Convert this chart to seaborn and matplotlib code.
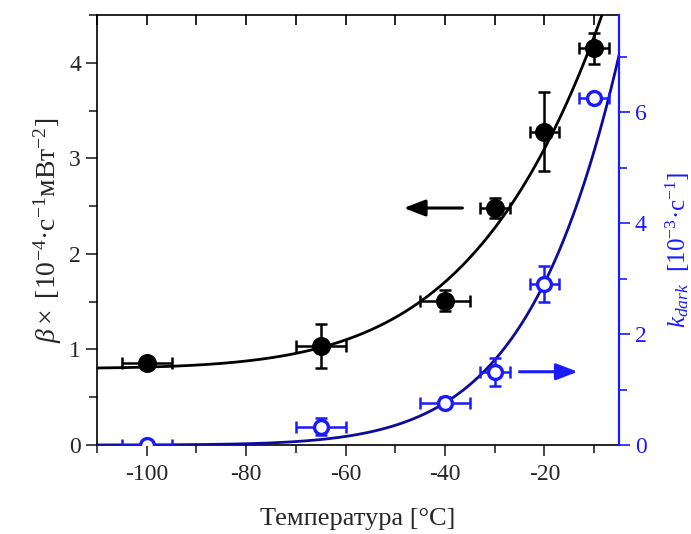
import numpy as np
import pandas as pd
import matplotlib
matplotlib.use("Agg")
import matplotlib.pyplot as plt
import seaborn as sns
from matplotlib.ticker import MultipleLocator

# ---- data ----
temp = [-100, -65, -40, -30, -20, -10]
temp_err = [5, 5, 5, 3, 3, 3]
beta = [0.86, 1.04, 1.51, 2.48, 3.28, 4.15]
beta_err = [0.05, 0.23, 0.11, 0.10, 0.41, 0.16]
kdark = [0.0, 0.33, 0.76, 1.32, 2.90, 6.25]
kdark_err = [0.05, 0.15, 0.10, 0.25, 0.32, 0.08]

# Arrhenius-type fit parameters
beta_offset = 0.80
beta_ref = 2.30        # beta - offset at T_ref
beta_Ea = 2750.0       # K
k_ref = 2.92           # kdark at T_ref
k_Ea = 3970.0          # K
T_ref = -20.0

sns.set_style("ticks")
plt.rcParams["font.family"] = ["Liberation Serif", "DejaVu Serif"]
plt.rcParams["mathtext.fontset"] = "custom"
plt.rcParams["mathtext.rm"] = "Liberation Serif"
plt.rcParams["mathtext.it"] = "Liberation Serif:italic"
plt.rcParams["axes.unicode_minus"] = False

fig = plt.figure(figsize=(6.91, 5.34), dpi=100)
ax = fig.add_axes([0.1404, 0.1667, 0.8958 - 0.1404, 0.9719 - 0.1667])
ax2 = ax.twinx()

Tfit = np.linspace(-110, -5, 300)
inv = 1.0 / (Tfit + 273.15) - 1.0 / (T_ref + 273.15)
beta_fit = beta_offset + beta_ref * np.exp(-beta_Ea * inv)
k_fit = k_ref * np.exp(-k_Ea * inv)

df_fit = pd.DataFrame({"T": Tfit, "beta": beta_fit, "k": k_fit})
df = pd.DataFrame({"T": temp, "beta": beta, "k": kdark})

blue = "#1a1aff"
navy = "#0b0b9c"

sns.lineplot(data=df_fit, x="T", y="beta", ax=ax, color="black", lw=2, zorder=2)
ax.errorbar(temp, beta, xerr=temp_err, yerr=beta_err, fmt="none",
            ecolor="black", elinewidth=1.8, capsize=4.5, capthick=1.8, zorder=3)
sns.scatterplot(data=df, x="T", y="beta", ax=ax, color="black", s=160,
                edgecolor="black", zorder=4)

sns.lineplot(data=df_fit, x="T", y="k", ax=ax2, color=navy, lw=2, zorder=2)
ax2.errorbar(temp, kdark, xerr=temp_err, yerr=kdark_err, fmt="none",
             ecolor=blue, elinewidth=1.8, capsize=4.5, capthick=1.8, zorder=3)
sns.scatterplot(data=df, x="T", y="k", ax=ax2, color="white", s=100,
                edgecolor=blue, linewidth=2.4, zorder=4)

ax.set_xlim(-110, -5)
ax.set_ylim(0, 4.5)
ax2.set_ylim(0, 7.75)

ax.xaxis.set_major_locator(MultipleLocator(20))
ax.xaxis.set_minor_locator(MultipleLocator(10))
ax.yaxis.set_major_locator(MultipleLocator(1))
ax.yaxis.set_minor_locator(MultipleLocator(0.5))
ax2.yaxis.set_major_locator(MultipleLocator(2))
ax2.yaxis.set_minor_locator(MultipleLocator(1))

ax.tick_params(axis="x", which="major", direction="out", length=8, width=1.2,
               labelsize=17, top=False, bottom=True, pad=6)
ax.tick_params(axis="x", which="minor", direction="out", length=6, width=1.2,
               top=False, bottom=True)
ax.tick_params(axis="y", which="major", direction="out", length=8, width=1.2,
               labelsize=17)
ax.tick_params(axis="y", which="minor", direction="out", length=6, width=1.2)

# inward ticks along the top spine, drawn by the twin axes
ax2.xaxis.set_visible(True)
ax2.xaxis.set_ticks_position("top")
ax2.tick_params(axis="x", which="both", direction="in", length=7, width=1.2,
                top=True, bottom=False, labeltop=False, labelbottom=False,
                colors="black")
ax2.set_xlabel("")

ax2.tick_params(axis="y", which="major", direction="out", length=8, width=1.2,
                labelsize=17, colors=blue)
ax2.tick_params(axis="y", which="minor", direction="out", length=6, width=1.2,
                colors=blue)

for s in ["left", "bottom", "top"]:
    ax.spines[s].set_linewidth(1.2)
    ax.spines[s].set_color("black")
ax2.spines["right"].set_color(blue)
ax2.spines["right"].set_linewidth(1.6)
ax2.spines["left"].set_visible(False)
ax2.spines["top"].set_visible(False)
ax2.spines["bottom"].set_visible(False)
ax.spines["right"].set_visible(False)

ax.set_xlabel("Температура [°C]", fontsize=19, labelpad=16)
ax.set_ylabel(r"$\it{\beta}\times$ [10$^{-4}$·с$^{-1}$мВт$^{-2}$]", fontsize=20,
              labelpad=4)
ax2.set_ylabel(r"$k_{dark}$  [10$^{-3}$·с$^{-1}$]", fontsize=18, color=blue,
               rotation=90)
ax2.yaxis.set_label_coords(1.085, 0.453)

ax.annotate("", xy=(-48.3, 2.48), xytext=(-36.5, 2.48),
            arrowprops=dict(arrowstyle="-|>,head_length=1.3,head_width=0.5",
                            color="black", lw=2.2, shrinkA=0, shrinkB=0))
ax2.annotate("", xy=(-13.3, 1.32), xytext=(-25, 1.32),
             arrowprops=dict(arrowstyle="-|>,head_length=1.3,head_width=0.5",
                             color=blue, lw=2.2, shrinkA=0, shrinkB=0))

fig.savefig("out.png", dpi=100)
